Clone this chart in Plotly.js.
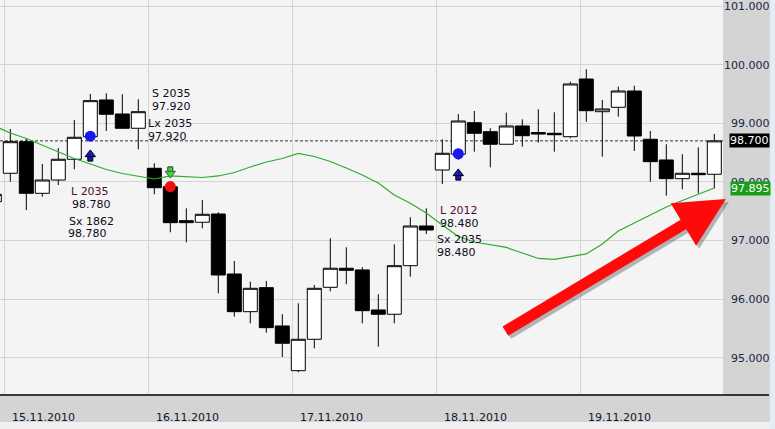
<!DOCTYPE html>
<html><head><meta charset="utf-8">
<script src="https://cdn.plot.ly/plotly-3.0.1.min.js"></script>
<style>html,body{margin:0;padding:0;background:#d4d4d4;}#chart{width:775px;height:429px;}</style>
</head><body><div id="chart"></div>
<script>
// ---- data ----
const candleIdx = [-1,0,1,2,3,4,5,6,7,8,9,10,11,12,13,14,15,16,17,18,19,20,21,22,23,24,25,26,27,28,29,30,31,32,33,34,35,36,37,38,39,40,41,42,43,44];
const openP  = [97.662,98.147,98.686,97.805,98.032,98.386,98.771,99.398,99.159,98.915,98.232,97.918,97.338,97.311,97.452,96.428,95.785,96.195,95.541,94.778,95.314,96.201,96.526,96.497,95.814,95.741,96.570,97.247,98.203,98.471,99.010,98.857,98.642,98.954,98.841,98.829,98.771,99.756,99.198,99.273,99.551,98.727,98.374,98.055,98.147,98.130];
const highP  = [97.850,98.903,98.749,98.305,98.578,99.056,99.500,99.512,99.495,99.410,98.317,97.920,97.549,97.691,97.481,96.650,96.297,96.309,95.742,95.928,96.241,97.038,96.884,96.543,96.082,96.935,97.396,97.549,98.727,99.159,99.210,98.915,99.181,99.068,99.239,99.188,99.710,99.922,99.398,99.625,99.642,98.869,98.642,98.471,98.590,98.817];
const lowP   = [97.600,98.003,97.520,97.747,97.947,98.215,98.760,98.869,98.910,98.556,97.788,97.140,96.969,97.208,96.099,95.700,95.587,95.427,95.012,94.751,95.160,96.133,96.253,95.587,95.188,95.587,96.382,97.111,97.964,98.374,98.515,98.249,98.640,98.601,98.669,98.515,98.744,99.027,98.430,99.113,98.527,98.003,97.765,97.874,97.805,97.891];
const closeP = [97.788,98.686,97.805,98.032,98.386,98.761,99.386,99.154,98.915,99.198,97.901,97.304,97.304,97.447,96.411,95.785,96.184,95.512,95.246,95.314,96.184,96.526,96.491,95.802,95.741,96.570,97.247,97.179,98.488,99.039,98.829,98.642,98.954,98.788,98.817,98.805,99.671,99.215,99.244,99.551,98.783,98.345,98.055,98.147,98.123,98.700];
const maValues = [98.954,98.834,98.741,98.630,98.510,98.399,98.305,98.212,98.143,98.092,98.049,98.101,98.084,98.075,98.101,98.160,98.254,98.340,98.399,98.485,98.433,98.348,98.237,98.118,97.981,97.776,97.635,97.469,97.265,97.068,96.974,96.923,96.881,96.787,96.693,96.679,96.718,96.770,96.940,97.162,97.299,97.435,97.572,97.683,97.785,97.895];

const dayLabels = ['15.11.2010','16.11.2010','17.11.2010','18.11.2010','19.11.2010'];
const dayStarts = [-0.375, 8.625, 17.625, 26.625, 35.625];

const yTickVals = [95,96,97,98,99,100,101];
const yTickText = ['\u200795.000','\u200796.000','\u200797.000','\u200798.000','\u200799.000','100.000','101.000'];

const lastPrice = 98.700;
const lastMA = 97.895;

const entryDotX = [5, 28], entryDotY = [98.78, 98.48];
const exitDotX = [10], exitDotY = [97.92];
const buyArrowX = [5, 28], buyArrowY = [98.442, 98.118];
const sellArrowX = [10], sellArrowY = [98.169];

const tradeText = ['S 2035','97.920','Lx 2035','97.920','L 2035','98.780','Sx 1862','98.780','L 2012','98.480','Sx 2035','98.480'];
const tradeX = [8.80,8.80,8.56,8.56,3.75,3.79,3.59,3.57,26.77,26.77,26.61,26.61];
const tradeY = [99.500,99.283,98.988,98.771,97.833,97.606,97.321,97.123,97.520,97.294,97.009,96.792];
const tradeColor = ['#0c0c22','#0c0c22','#0c0c22','#0c0c22','#5a0a30','#0c0c22','#0c0c22','#0c0c22','#5a0a30','#0c0c22','#0c0c22','#0c0c22'];

// ---- chart ----
const FONT = 'DejaVu Sans, Verdana, sans-serif';
const ARW = 0.045; // half-length of signal arrow glyph in price units (style)
const traces = [
  {type:'scatter', mode:'lines', x:candleIdx, y:maValues, line:{color:'#2eab2e', width:1.2}, hoverinfo:'skip'},
  {type:'candlestick', x:candleIdx, open:openP, high:highP, low:lowP, close:closeP,
   increasing:{line:{color:'#000', width:1}, fillcolor:'#ffffff'},
   decreasing:{line:{color:'#000', width:1}, fillcolor:'#000000'},
   whiskerwidth:0, hoverinfo:'skip'},
  // buy arrows: stem + head
  {type:'scatter', mode:'markers', x:buyArrowX, y:buyArrowY.map(v=>v-ARW), marker:{symbol:'square', size:5, color:'#1a1aa8', line:{color:'#000028', width:1}}, hoverinfo:'skip'},
  {type:'scatter', mode:'markers', x:buyArrowX, y:buyArrowY.map(v=>v+ARW*0.6), marker:{symbol:'triangle-up', size:9, color:'#1a1aa8', line:{color:'#000028', width:1}}, hoverinfo:'skip'},
  // sell arrow: stem + head
  {type:'scatter', mode:'markers', x:sellArrowX, y:sellArrowY.map(v=>v+ARW), marker:{symbol:'square', size:5, color:'#2ee02e', line:{color:'#333', width:1}}, hoverinfo:'skip'},
  {type:'scatter', mode:'markers', x:sellArrowX, y:sellArrowY.map(v=>v-ARW*0.6), marker:{symbol:'triangle-down', size:9, color:'#2ee02e', line:{color:'#555', width:1}}, hoverinfo:'skip'},
  {type:'scatter', mode:'markers', x:entryDotX, y:entryDotY, marker:{symbol:'circle', size:11, color:'#1818ee'}, hoverinfo:'skip'},
  {type:'scatter', mode:'markers', x:exitDotX, y:exitDotY, marker:{symbol:'circle', size:11, color:'#ee1111'}, hoverinfo:'skip'}
];

const annotations = [];
dayLabels.forEach((t,i)=>annotations.push({text:t, x:dayStarts[i], xref:'x', xanchor:'left', xshift:6,
  y:-0.0557, yref:'paper', yanchor:'middle', showarrow:false, font:{family:FONT, size:11, color:'#101830'}}));
tradeText.forEach((t,i)=>annotations.push({text:t, x:tradeX[i], y:tradeY[i], xref:'x', yref:'y', xanchor:'left', yanchor:'middle',
  showarrow:false, borderpad:0, font:{family:FONT, size:11, color:tradeColor[i]}}));
// price boxes on the axis
annotations.push({text:lastPrice.toFixed(3), x:1, xref:'paper', xanchor:'left', xshift:6, y:lastPrice, yref:'y', yanchor:'middle',
  showarrow:false, bgcolor:'#000', borderpad:0, font:{family:FONT, size:11, color:'#fff'}});
annotations.push({text:lastMA.toFixed(3), x:1, xref:'paper', xanchor:'left', xshift:7, y:lastMA, yref:'y', yanchor:'middle',
  showarrow:false, bgcolor:'#1a9e1a', borderpad:0, font:{family:FONT, size:11, color:'#fff'}});
// red arrow with shadow
annotations.push({text:'', x:1.004, y:0.4962, xref:'paper', yref:'paper', ax:-222, ay:133, xshift:3, yshift:-3,
  showarrow:true, arrowhead:2, arrowsize:0.9, arrowwidth:11, arrowcolor:'rgba(60,60,60,0.35)', standoff:0});
annotations.push({text:'', x:1.004, y:0.4962, xref:'paper', yref:'paper', ax:-222, ay:133,
  showarrow:true, arrowhead:2, arrowsize:0.9, arrowwidth:11, arrowcolor:'#ff0a0a', standoff:0});

const layout = {
  width:775, height:429,
  margin:{l:0, r:52, t:0, b:34, pad:0},
  paper_bgcolor:'#d4d4d4', plot_bgcolor:'#f4f4f4',
  showlegend:false,
  boxgap:0.125, boxgroupgap:0,
  xaxis:{type:'linear', range:[-0.644, 44.544], rangeslider:{visible:false}, tickmode:'array', tickvals:dayStarts,
    showticklabels:false, ticks:'', showgrid:true, gridcolor:'#d5d5d5', gridwidth:1, zeroline:false, showline:false, fixedrange:true},
  yaxis:{side:'right', range:[94.363, 101.104], tickmode:'array', tickvals:yTickVals, ticktext:yTickText, ticks:'',
    showgrid:true, gridcolor:'#d5d5d5', gridwidth:1, zeroline:false, showline:false, ticklabelstandoff:0, ticklabeloverflow:'allow',
    tickfont:{family:FONT, size:11, color:'#16264a'}, fixedrange:true},
  shapes:[
    {type:'line', xref:'paper', yref:'y', x0:0, x1:1, y0:lastPrice, y1:lastPrice, line:{color:'#333', width:1, dash:'3px,2px'}, layer:'below'},
    {type:'line', xref:'paper', yref:'paper', x0:0, x1:1.0636, y0:0, y1:0, line:{color:'#000', width:1.5}},
    {type:'rect', xref:'paper', yref:'paper', x0:-0.01, x1:1.08, y0:-0.0684, y1:-0.1, fillcolor:'#f0f0f0', line:{width:0}},
    {type:'rect', xref:'paper', yref:'paper', x0:1.0650, x1:1.08, y0:-0.1, y1:1.01, fillcolor:'#e6ecf4', line:{width:0}}
  ],
  annotations:annotations
};
Plotly.newPlot('chart', traces, layout, {displayModeBar:false, staticPlot:true});
</script></body></html>
